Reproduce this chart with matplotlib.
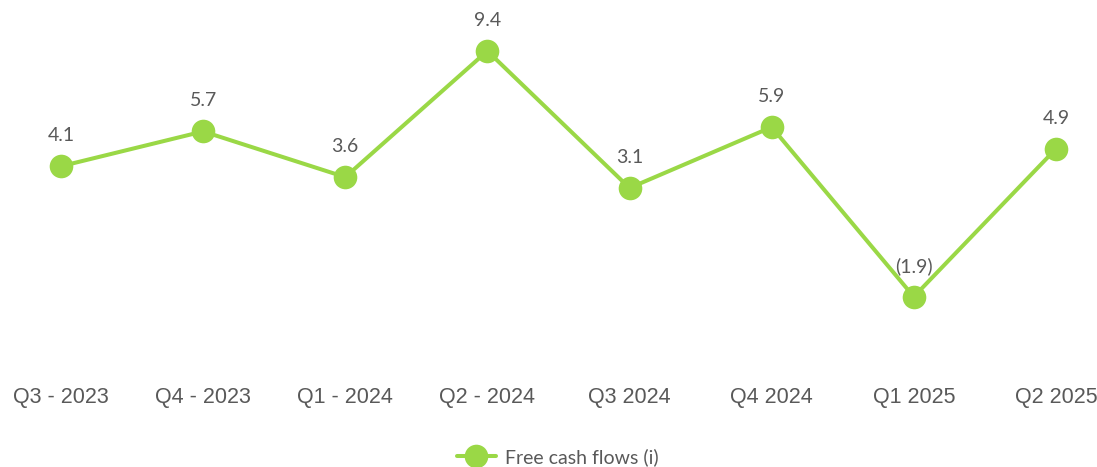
import matplotlib
matplotlib.use("Agg")
import matplotlib.pyplot as plt

categories = ["Q3 - 2023", "Q4 - 2023", "Q1 - 2024", "Q2 - 2024", "Q3 2024", "Q4 2024", "Q1 2025", "Q2 2025"]
free_cash_flows = [4.1, 5.7, 3.6, 9.4, 3.1, 5.9, -1.9, 4.9]
value_labels = ["4.1", "5.7", "3.6", "9.4", "3.1", "5.9", "(1.9)", "4.9"]

GREEN = "#9AD846"
TEXT = "#595959"
W, H = 1097, 467

fig = plt.figure(figsize=(W / 100, H / 100), dpi=100)
ax = fig.add_axes([0, (H - 370) / H, 1, 370 / H])
x = list(range(len(categories)))
ax.plot(x, free_cash_flows, color=GREEN, lw=2.9, marker="o", markersize=17,
        markeredgewidth=0, label="Free cash flows (i)", solid_capstyle="round")
for xi, v, t in zip(x, free_cash_flows, value_labels):
    ax.annotate(t, (xi, v), xytext=(0, 22), textcoords="offset points",
                ha="center", va="center", fontsize=14, color=TEXT, family="Lato")

ax.set_xlim(-0.429, 7.289)
ax.set_ylim(-5.269, 11.743)
ax.set_xticks(x)
ax.set_xticklabels(categories, fontsize=15.5, color=TEXT, family="Liberation Sans")
for lbl in ax.get_xticklabels():
    lbl.set_x(lbl.get_position()[0])
ax.tick_params(axis="x", length=0, pad=12)
ax.set_yticks([])
for s in ax.spines.values():
    s.set_visible(False)
ax.patch.set_alpha(0)

fig.legend(loc="center", bbox_to_anchor=(558 / W, 1 - 457 / H), frameon=False,
           prop={"family": "Lato", "size": 14}, labelcolor=TEXT,
           handlelength=2.0, handletextpad=0.5)

fig.savefig("out.png", dpi=100)
